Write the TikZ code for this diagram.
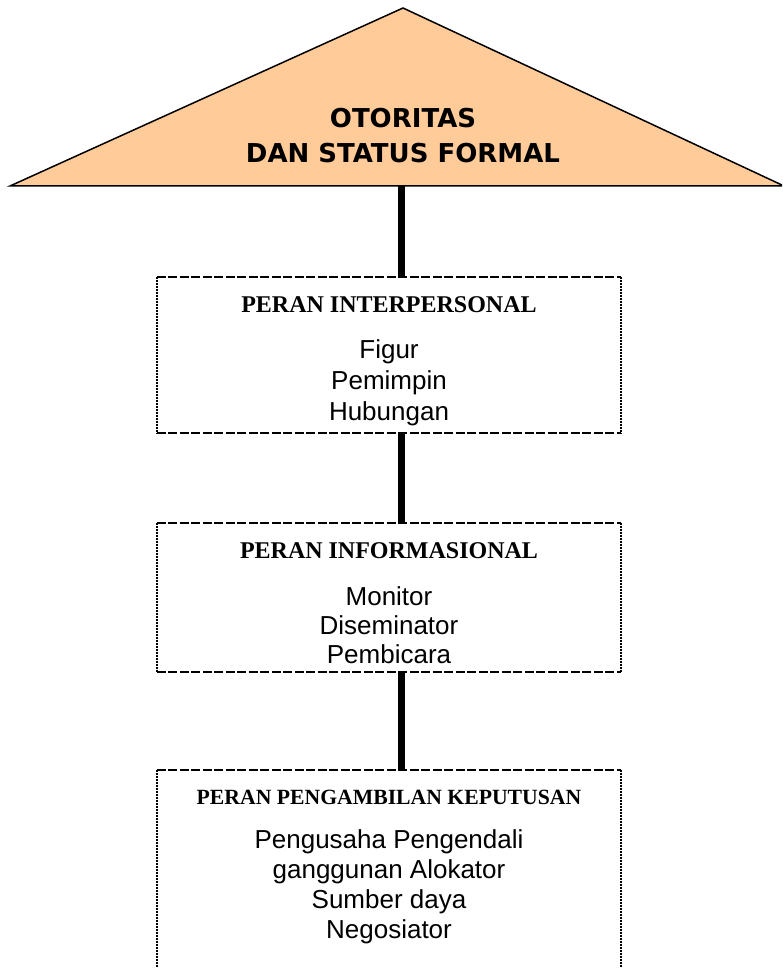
\documentclass[tikz,border=0pt]{standalone}
\usepackage{fontspec}
\setmainfont{Liberation Sans}
\newfontfamily\titlefam{DejaVu Sans}
\newfontfamily\headfam{Liberation Serif}
\definecolor{peach}{HTML}{FFCC99}
\tikzset{
  titletext/.style={anchor=base, inner sep=0pt, font=\titlefam\bfseries\fontsize{26}{30}\selectfont},
  headtext/.style={anchor=base, inner sep=0pt, font=\headfam\bfseries\fontsize{24}{28}\selectfont},
  headsmall/.style={anchor=base, inner sep=0pt, font=\headfam\bfseries\fontsize{21.7}{26}\selectfont},
  bodytext/.style={anchor=base, inner sep=0pt, font=\fontsize{26}{30}\selectfont},
  rolebox/.style={draw=none, rectangle, inner sep=0pt},
  hedge/.style={line width=2.4pt, dash pattern=on 9pt off 2.5pt},
  vedge/.style={line width=2.2pt, dash pattern=on 2pt off 1pt},
  conn/.style={line width=7pt, black},
  tri/.style={draw=black, line width=1.5pt, fill=peach, line join=miter}
}
\begin{document}
\begin{tikzpicture}[x=1pt,y=-1pt]
\useasboundingbox (0,0) rectangle (782,968);
\clip (0,0) rectangle (782,968);
\fill[white] (0,0) rectangle (782,968);

% triangle
\coordinate (tl) at (10,186);
\coordinate (tt) at (403,8);
\coordinate (tr) at (784,186);
\draw[tri] (tl) -- (tt) -- (tr) -- cycle;
\node[titletext] (t1) at (403,128) {OTORITAS};
\node[titletext] (t2) at (403,163) {DAN STATUS FORMAL};
\coordinate (c0) at (401.5,186);

% boxes
\node[rolebox, minimum width=464pt, minimum height=156pt] (b1) at (389,355) {};
\node[rolebox, minimum width=464pt, minimum height=149pt] (b2) at (389,597.5) {};
\node[rolebox, minimum width=464pt, minimum height=240pt] (b3) at (389,890) {};

% connectors
\draw[conn] (c0) -- (c0 |- b1.north);
\draw[conn] (b1.south -| c0) -- (b2.north -| c0);
\draw[conn] (b2.south -| c0) -- (b3.north -| c0);

% box borders
\foreach \b in {b1,b2,b3}{
  \draw[hedge] (\b.north west) -- (\b.north east);
  \draw[hedge] (\b.south west) -- (\b.south east);
  \draw[vedge] (\b.north west) -- (\b.south west);
  \draw[vedge] (\b.north east) -- (\b.south east);
}

% box 1
\node[headtext] (h1) at (389,312) {PERAN INTERPERSONAL};
\node[bodytext] (l11) at (389,358) {Figur};
\node[bodytext] (l12) at (389,389) {Pemimpin};
\node[bodytext] (l13) at (389,420) {Hubungan};

% box 2
\node[headtext] (h2) at (389,558) {PERAN INFORMASIONAL};
\node[bodytext] (l21) at (389,605) {Monitor};
\node[bodytext] (l22) at (389,634) {Diseminator};
\node[bodytext] (l23) at (389,663) {Pembicara};

% box 3
\node[headsmall] (h3) at (389,804) {PERAN PENGAMBILAN KEPUTUSAN};
\node[bodytext] (l31) at (389,848) {Pengusaha Pengendali};
\node[bodytext] (l32) at (389,878) {ganggunan Alokator};
\node[bodytext] (l33) at (389,908) {Sumber daya};
\node[bodytext] (l34) at (389,938) {Negosiator};
\end{tikzpicture}
\end{document}
